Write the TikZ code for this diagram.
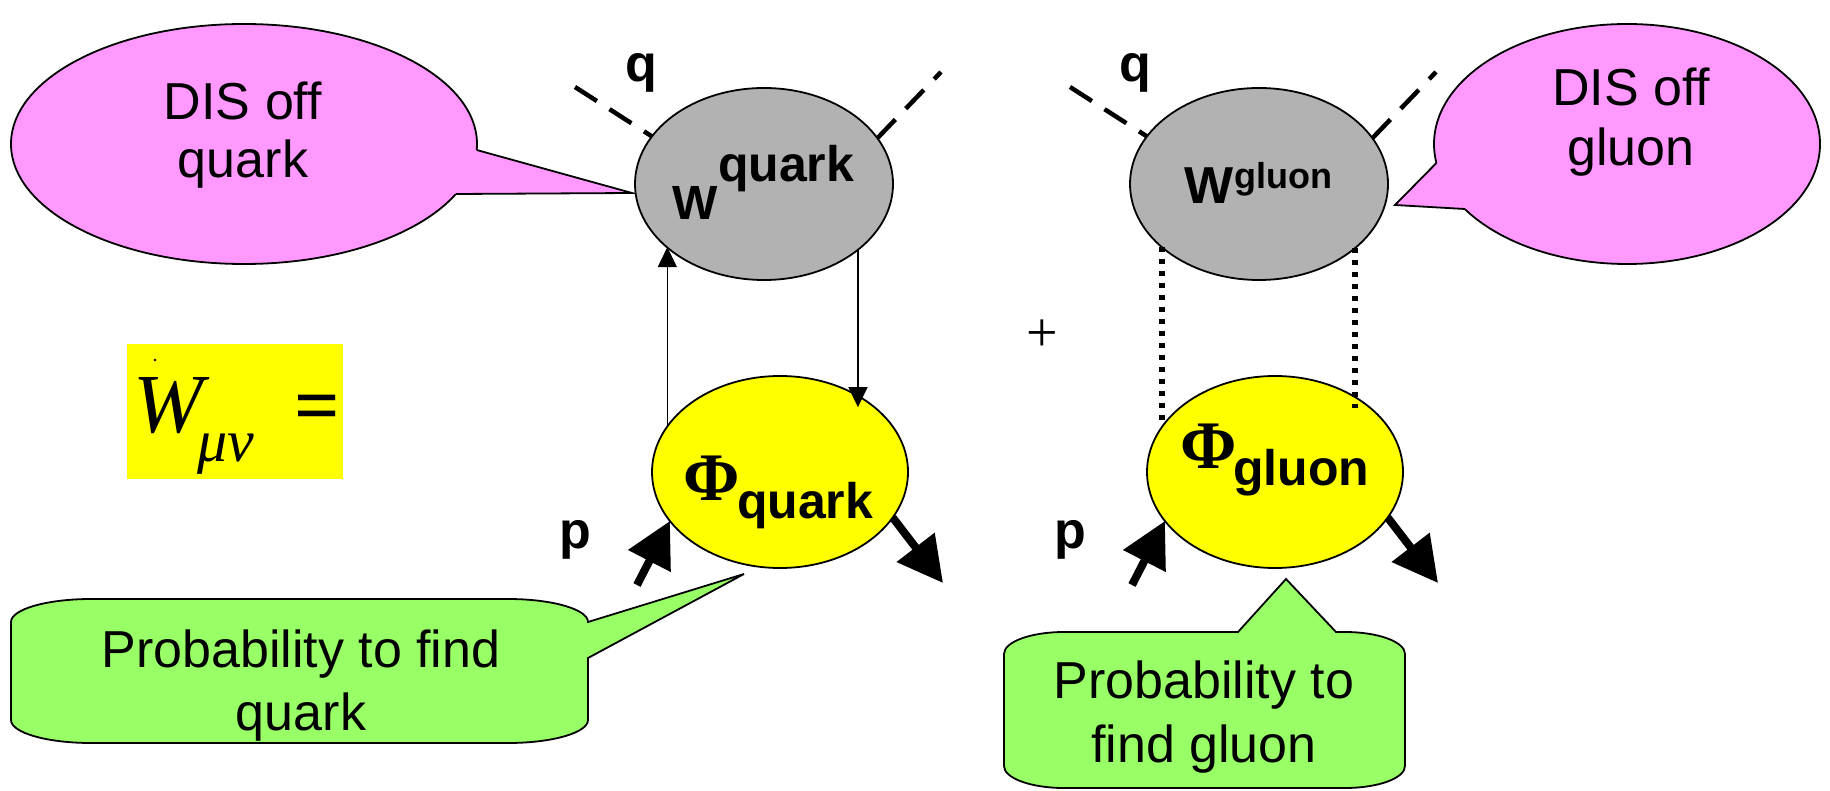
\documentclass[tikz,border=0pt]{standalone}
\usepackage{fontspec}
\setmainfont{Liberation Sans}
\newfontfamily\tms{Liberation Serif}
\usetikzlibrary{shapes.geometric,arrows.meta,calc}
\definecolor{pinkc}{HTML}{FF99FF}
\definecolor{greenc}{HTML}{99FF66}
\definecolor{yel}{HTML}{FFFF00}
\definecolor{grayc}{HTML}{B2B2B2}
\newcommand{\fs}[1]{\fontsize{#1}{#1}\selectfont}
\begin{document}
\begin{tikzpicture}[x=1pt,y=-1pt,
  outl/.style={draw=black,line width=1.8pt},
  blob/.style={ellipse,outl,inner sep=0pt,outer sep=0pt},
  lbl/.style={inner sep=0pt,outer sep=0pt,anchor=base west},
  ctr/.style={inner sep=0pt,outer sep=0pt,anchor=base},
  qline/.style={line width=1.5pt,-{Triangle[length=20pt,width=19pt]}},
  pmom/.style={line width=8pt,-{Triangle[length=45pt,width=46pt]}},
  photon/.style={line width=4.5pt,dash pattern=on 26pt off 15pt},
  gline/.style={line width=6pt,dash pattern=on 5pt off 7pt},
  call/.style={ctr,font=\fs{52}},
  bold/.style={lbl,font=\bfseries\fs{#1}},
]
\useasboundingbox (0,0) rectangle (1830,791);

% ---- pink callouts
\node[blob,fill=pinkc,minimum width=466pt,minimum height=240pt] (dq) at (244,144) {};
\coordinate (dqtip) at (632,193);
\fill[pinkc] (dqtip) -- (476.7,150) -- (465,150) -- (446,189) -- (455.8,194) -- cycle;
\draw[outl,line join=miter] (476.7,150) -- (dqtip) -- (455.8,194);

\node[blob,fill=pinkc,minimum width=386pt,minimum height=240pt] (dg) at (1627,144) {};
\coordinate (dgtip) at (1395,205);
\fill[pinkc] (dgtip) -- (1436.4,163) -- (1447,163) -- (1472,203) -- (1464.8,209) -- cycle;
\draw[outl,line join=miter] (1436.4,163) -- (dgtip) -- (1464.8,209);

% ---- green callouts
\coordinate (gqtip) at (744,574);
\draw[outl,fill=greenc] (11,622) .. controls (11,609.3) and (46.8,599) .. (91,599)
  -- (508,599) .. controls (552.2,599) and (588,609.3) .. (588,622)
  -- (gqtip) -- (588,658) -- (588,720)
  .. controls (588,732.7) and (552.2,743) .. (508,743) -- (91,743)
  .. controls (46.8,743) and (11,732.7) .. (11,720) -- cycle;
\coordinate (ggtip) at (1286,579);
\draw[outl,fill=greenc] (1004,654) .. controls (1004,641.8) and (1030.9,632) .. (1064,632)
  -- (1238,632) -- (ggtip) -- (1336,632) -- (1345,632)
  .. controls (1378.1,632) and (1405,641.8) .. (1405,654) -- (1405,766)
  .. controls (1405,778.2) and (1378.1,788) .. (1345,788) -- (1064,788)
  .. controls (1030.9,788) and (1004,778.2) .. (1004,766) -- cycle;

% ---- W_mu nu box
\node[fill=yel,minimum width=216pt,minimum height=135pt,inner sep=0pt] (wbox) at (235,411.5) {};
\fill (155,360) circle (1.3pt);
\node[lbl,font=\tms\itshape\fs{84}] (wmu) at (133,432) {W};
\node[lbl,font=\tms\itshape\fs{60}] (munu) at (197,461) {\symbol{"03BC}\symbol{"03BD}};
\node[lbl,font=\tms\bfseries\fs{80}] (eq) at (294,432) {=};

% ---- blobs
\node[blob,fill=grayc,minimum width=258pt,minimum height=192pt] (Wq) at (764,184) {};
\node[blob,fill=grayc,minimum width=258pt,minimum height=192pt] (Wg) at (1259,184) {};
\node[blob,fill=yel,minimum width=256pt,minimum height=192pt] (Yq) at (780,472) {};
\node[blob,fill=yel,minimum width=256pt,minimum height=192pt] (Yg) at (1275,472) {};

% ---- photon lines
\coordinate (qa) at (575,87);  \coordinate (qb) at (941,72);
\coordinate (ga) at (1070,87); \coordinate (gb) at (1436,72);
\draw[photon] (qa) -- (Wq.157.2);
\draw[photon] (Wq.22.1) -- (qb);
\draw[photon] (ga) -- (Wg.157.2);
\draw[photon] (Wg.22.1) -- (gb);

% ---- quark lines
\draw[qline] (Yq.158.3) -- (Yq.158.3 |- Wq.213.1);
\draw[qline,shorten >=-10pt] (Wq.325.6) -- (Wq.325.6 |- Yq.43.7);
% ---- gluon lines
\draw[gline] (Wg.213.7) -- (Wg.213.7 |- Yg.157.5);
\draw[gline,shorten >=-11pt] (Wg.326.3) -- (Wg.326.3 |- Yg.43.2);

% ---- momentum arrows
\coordinate (pq) at (637,585); \coordinate (kq) at (943,583);
\coordinate (pg) at (1132,585); \coordinate (kg) at (1438,583);
\draw[pmom] (pq) -- (Yq.204.6);
\draw[pmom] (Yq.338.2) -- (kq);
\draw[pmom] (pg) -- (Yg.204.6);
\draw[pmom] (Yg.338.2) -- (kg);

% ---- labels
\node[ctr,font=\bfseries\fs{52}] (q1) at (641,82) {q};
\node[ctr,font=\bfseries\fs{52}] (q2) at (1135,82) {q};
\node[ctr,font=\bfseries\fs{52}] (p1) at (575,548) {p};
\node[ctr,font=\bfseries\fs{52}] (p2) at (1070,548) {p};

\node[bold=48] (Wqa) at (672,220) {W};
\node[bold=50] (Wqb) at (718,182) {quark};
\node[bold=52] (Wga) at (1184,204) {W};
\node[bold=36] (Wgb) at (1234,189) {gluon};

\node[lbl,font=\tms\bfseries\fs{68}] (Phq) at (683,500) {\symbol{"03A6}};
\node[bold=50] (Phqs) at (737,518) {quark};
\node[lbl,font=\tms\bfseries\fs{68}] (Phg) at (1180,468) {\symbol{"03A6}};
\node[bold=50] (Phgs) at (1233,485) {gluon};

\node[inner sep=0pt,font=\tms\fs{56}] (plus) at (1042,336) {+};

% ---- callout texts
\node[call] (t1) at (243,120) {DIS off};
\node[call] (t2) at (243,178) {quark};
\node[call] (t3) at (1631,106) {DIS off};
\node[call] (t4) at (1631,166) {gluon};
\node[call] (t5) at (301,667) {Probability to find};
\node[call] (t6) at (301,730) {quark};
\node[call] (t7) at (1204,698) {Probability to};
\node[call] (t8) at (1204,762) {find gluon};
\end{tikzpicture}
\end{document}
